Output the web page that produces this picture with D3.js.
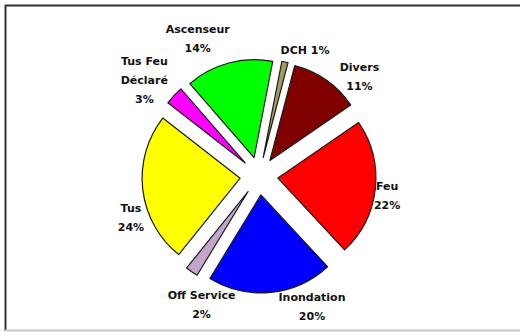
<!DOCTYPE html>
<html>
<head>
<meta charset="utf-8">
<script src="https://cdn.jsdelivr.net/npm/d3@7"></script>
<style>
  html, body { margin: 0; padding: 0; background: #fff; }
  svg { display: block; }
  text { font-family: "DejaVu Sans", Arial, sans-serif; font-weight: bold; font-size: 11px; fill: #111; }
</style>
</head>
<body>
<svg id="chart" width="520" height="332"></svg>
<script>
// Intervention types (percent share), clockwise from the first slice
const categories = ["Ascenseur", "DCH", "Divers", "Feu", "Inondation", "Off Service", "Tus", "Tus Feu Déclaré"];
const values = [14, 1, 11, 22, 20, 2, 24, 3];
const colors = ["#00ff00", "#a09c60", "#800000", "#ff0000", "#0000ff", "#c4a6cc", "#ffff00", "#ff00ff"];

const W = 520, H = 332;
const cx = 259, cy = 176;
const radius = 98;
const explode = 19;
const labelRadius = 140;
const lineHeight = 19;
const startDeg = -41;

// label wrapping and small placement offsets (pixels) from the radial anchor
const labelLayout = {
  "Ascenseur":       { lines: n => [n], dx: -25, dy: -2 },
  "DCH":             { lines: n => [], inline: true, dx: 15, dy: 10 },
  "Divers":          { lines: n => [n], dx: 20, dy: 15 },
  "Feu":             { lines: n => [n], dx: -11, dy: 4 },
  "Inondation":      { lines: n => [n], dx: 39, dy: -9 },
  "Off Service":     { lines: n => [n], dx: 23, dy: 14 },
  "Tus":             { lines: n => [n], dx: 11, dy: 25 },
  "Tus Feu Déclaré": { lines: n => ["Tus Feu", "Déclaré"], dx: -13, dy: 0 }
};

const svg = d3.select("#chart");

// chart frame
svg.append("line").attr("x1", 5).attr("x2", W).attr("y1", 5.5).attr("y2", 5.5)
  .attr("stroke", "#333").attr("stroke-width", 2);
svg.append("line").attr("x1", 5.5).attr("x2", 5.5).attr("y1", 5).attr("y2", 331)
  .attr("stroke", "#333").attr("stroke-width", 2);
svg.append("line").attr("x1", 5).attr("x2", W).attr("y1", 330.5).attr("y2", 330.5)
  .attr("stroke", "#c8c8c8").attr("stroke-width", 2);

const toRad = d => d * Math.PI / 180;
const pie = d3.pie()
  .sort(null)
  .value(d => d.value)
  .startAngle(toRad(startDeg))
  .endAngle(toRad(startDeg + 360));

const data = categories.map((c, i) => ({ name: c, value: values[i], color: colors[i] }));
const arcs = pie(data);
const arc = d3.arc().innerRadius(0).outerRadius(radius);

const g = svg.append("g").attr("transform", `translate(${cx},${cy})`);

// exploded slices
g.selectAll("path.slice")
  .data(arcs)
  .join("path")
  .attr("class", "slice")
  .attr("transform", d => {
    const m = (d.startAngle + d.endAngle) / 2;
    return `translate(${Math.sin(m) * explode},${-Math.cos(m) * explode})`;
  })
  .attr("d", arc)
  .attr("fill", d => d.data.color)
  .attr("stroke", "#1a1a1a")
  .attr("stroke-width", 1.2)
  .attr("stroke-linejoin", "round");

// category + percentage labels
arcs.forEach(d => {
  const m = (d.startAngle + d.endAngle) / 2;
  const lay = labelLayout[d.data.name];
  const pct = d.data.value + "%";
  const lines = lay.inline ? [d.data.name + " " + pct] : lay.lines(d.data.name).concat([pct]);
  const x = Math.sin(m) * labelRadius + lay.dx;
  const y = -Math.cos(m) * labelRadius + lay.dy;
  const firstBaseline = y - (lines.length - 1) * lineHeight / 2 + 4;
  const t = g.append("text").attr("text-anchor", "middle");
  lines.forEach((ln, i) => {
    t.append("tspan").attr("x", x).attr("y", firstBaseline + i * lineHeight).text(ln);
  });
});
</script>
</body>
</html>
